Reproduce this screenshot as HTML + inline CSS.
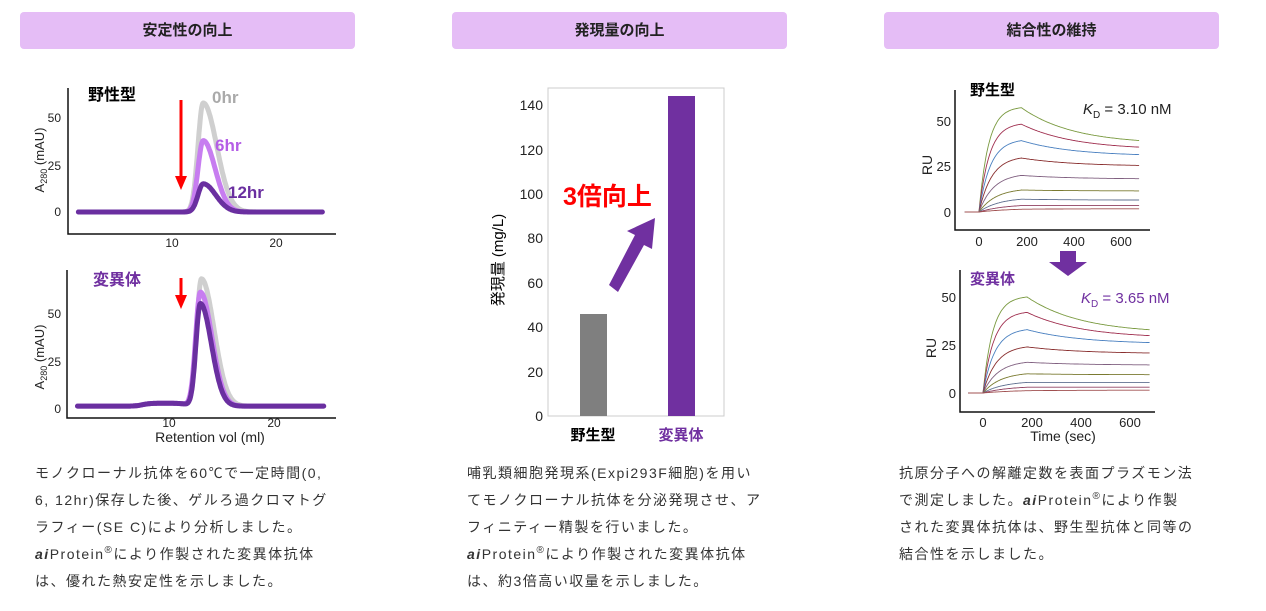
<!DOCTYPE html>
<html><head><meta charset="utf-8">
<style>
body{margin:0;width:1266px;height:611px;background:#fff;overflow:hidden;font-family:"Liberation Sans","Noto Sans CJK JP",sans-serif;position:relative}
.h{position:absolute;top:12px;height:37px;width:335px;background:#e5bdf6;border-radius:4px;text-align:center;line-height:37px;font-weight:bold;font-size:15px;color:#222}
.p{position:absolute;top:460px;font-size:14px;line-height:27px;letter-spacing:1.5px;color:#333}
.p sup{font-size:10px;line-height:0;vertical-align:6px}
svg{position:absolute;left:0;top:0}
</style></head><body>
<div class="h" style="left:20px">安定性の向上</div>
<div class="h" style="left:452px">発現量の向上</div>
<div class="h" style="left:884px">結合性の維持</div>
<div class="p" style="left:35px;width:300px">モノクローナル抗体を60℃で一定時間(0, 6, 12hr)保存した後、ゲルろ過クロマトグラフィー(SE C)により分析しました。<br><b><i>ai</i></b>Protein<sup>®</sup>により作製された変異体抗体は、優れた熱安定性を示しました。</div>
<div class="p" style="left:467px;width:296px">哺乳類細胞発現系(Expi293F細胞)を用いてモノクローナル抗体を分泌発現させ、アフィニティー精製を行いました。<br><b><i>ai</i></b>Protein<sup>®</sup>により作製された変異体抗体は、約3倍高い収量を示しました。</div>
<div class="p" style="left:899px;width:312px">抗原分子への解離定数を表面プラズモン法<br>で測定しました。<b><i>ai</i></b>Protein<sup>®</sup>により作製<br>された変異体抗体は、野生型抗体と同等の<br>結合性を示しました。</div>
<svg id="s" width="1266" height="611" font-family="Liberation Sans, Noto Sans CJK JP, sans-serif">
<g stroke="#111" stroke-width="1.5" fill="none">
<path d="M68 88V234H336"/><path d="M67 270V418H336"/>
<path d="M955 90V230H1150"/><path d="M960 270V412H1155"/>
</g>
<rect x="548" y="88" width="176" height="328" fill="none" stroke="#ccc"/>
<g font-size="12" fill="#222">
<text x="61" y="216" text-anchor="end">0</text><text x="61" y="170" text-anchor="end">25</text><text x="61" y="122" text-anchor="end">50</text>
<text x="172" y="247" text-anchor="middle">10</text><text x="276" y="247" text-anchor="middle">20</text>
<text x="61" y="413" text-anchor="end">0</text><text x="61" y="366" text-anchor="end">25</text><text x="61" y="318" text-anchor="end">50</text>
<text x="169" y="427" text-anchor="middle">10</text><text x="274" y="427" text-anchor="middle">20</text>
<text x="210" y="442" text-anchor="middle" font-size="14">Retention vol (ml)</text>
<text transform="translate(44,160) rotate(-90)" text-anchor="middle" font-size="13">A<tspan font-size="9" dy="3">280</tspan><tspan dy="-3"> (mAU)</tspan></text>
<text transform="translate(44,357) rotate(-90)" text-anchor="middle" font-size="13">A<tspan font-size="9" dy="3">280</tspan><tspan dy="-3"> (mAU)</tspan></text>
</g>
<text x="88" y="100" font-size="16" font-weight="bold">野性型</text>
<path d="M181 100V180" stroke="#f00" stroke-width="3"/><path d="M175 176L181 190L187 176Z" fill="#f00"/>
<path d="M181 278V298" stroke="#f00" stroke-width="3"/><path d="M175 295L181 309L187 295Z" fill="#f00"/>
<g id="chrom" fill="none" stroke-linejoin="round" stroke-linecap="round"></g>
<text x="212" y="103" font-size="17" font-weight="bold" fill="#aaa">0hr</text>
<text x="215" y="151" font-size="17" font-weight="bold" fill="#b45ee6">6hr</text>
<text x="228" y="198" font-size="17" font-weight="bold" fill="#6a2fa0">12hr</text>
<text x="93" y="285" font-size="16" font-weight="bold" fill="#7030a0">変異体</text>
<g font-size="14" fill="#222" text-anchor="end">
<text x="543" y="421">0</text><text x="543" y="377">20</text><text x="543" y="332">40</text><text x="543" y="288">60</text><text x="543" y="243">80</text><text x="543" y="199">100</text><text x="543" y="155">120</text><text x="543" y="110">140</text>
</g>
<text transform="translate(503,260) rotate(-90)" text-anchor="middle" font-size="15">発現量 (mg/L)</text>
<rect x="580" y="314" width="27" height="102" fill="#7f7f7f"/>
<rect x="668" y="96" width="27" height="320" fill="#7030a0"/>
<text x="563" y="205" font-size="25" font-weight="bold" fill="#f00">3倍向上</text>
<path d="M609 285L635 235L627 231L655 218L652 249L644 245L618 292Z" fill="#7030a0"/>
<text x="593" y="440" font-size="15" font-weight="bold" text-anchor="middle">野生型</text>
<text x="681" y="440" font-size="15" font-weight="bold" text-anchor="middle" fill="#7030a0">変異体</text>
<g font-size="13" fill="#222">
<text x="951" y="217" text-anchor="end">0</text><text x="951" y="171" text-anchor="end">25</text><text x="951" y="126" text-anchor="end">50</text>
<text x="979" y="246" text-anchor="middle">0</text><text x="1027" y="246" text-anchor="middle">200</text><text x="1074" y="246" text-anchor="middle">400</text><text x="1121" y="246" text-anchor="middle">600</text>
<text x="956" y="398" text-anchor="end">0</text><text x="956" y="350" text-anchor="end">25</text><text x="956" y="302" text-anchor="end">50</text>
<text x="983" y="427" text-anchor="middle">0</text><text x="1032" y="427" text-anchor="middle">200</text><text x="1081" y="427" text-anchor="middle">400</text><text x="1130" y="427" text-anchor="middle">600</text>
<text x="1063" y="441" text-anchor="middle" font-size="14">Time (sec)</text>
<text transform="translate(932,165) rotate(-90)" text-anchor="middle" font-size="14">RU</text>
<text transform="translate(936,348) rotate(-90)" text-anchor="middle" font-size="14">RU</text>
</g>
<text x="970" y="95" font-size="15" font-weight="bold">野生型</text>
<text x="970" y="284" font-size="15" font-weight="bold" fill="#7030a0">変異体</text>
<text x="1083" y="114" font-size="15" fill="#222"><tspan font-style="italic">K</tspan><tspan font-size="10" dy="4">D</tspan><tspan dy="-4"> = 3.10 nM</tspan></text>
<text x="1081" y="303" font-size="15" fill="#7030a0"><tspan font-style="italic">K</tspan><tspan font-size="10" dy="4">D</tspan><tspan dy="-4"> = 3.65 nM</tspan></text>
<path d="M1060 251H1076V262H1087L1068 276L1049 262H1060Z" fill="#7030a0"/>
<g id="spr" fill="none" stroke-width="0.9"></g>
</svg>
<script>
function chrom(x0,y0,px,py,mu,A,sl,sr,base,bump,col,w){
 var d="";for(var v=1;v<=24.5;v+=0.05){var s=v<mu?sl:sr;var y=base+A*Math.exp(-Math.pow(v-mu,2)/(2*s*s));
 if(bump)y+=bump*(1/(1+Math.exp(-(v-7.2)*3)))*(1/(1+Math.exp((v-11.5)*3)));
 d+=(d?"L":"M")+(x0+v*px).toFixed(1)+" "+(y0-y*py).toFixed(1);}
 var p=document.createElementNS("http://www.w3.org/2000/svg","path");p.setAttribute("d",d);p.setAttribute("stroke",col);p.setAttribute("stroke-width",w);document.getElementById("chrom").appendChild(p);}
chrom(68,212,10.4,1.88,13,58,0.5,1.3,0,0,"#cfcfcf",5);
chrom(68,212,10.4,1.88,13,38,0.5,1.15,0,0,"#c77df0",5);
chrom(68,212,10.4,1.88,13,15,0.5,1.2,0,0,"#6a2fa0",5);
chrom(67,409,10.5,1.9,12.8,67,0.45,1.2,1.5,1.5,"#cfcfcf",5);
chrom(67,409,10.5,1.9,12.7,60,0.45,1.1,1.5,1.5,"#c77df0",5);
chrom(67,409,10.5,1.9,12.7,54,0.42,1.05,1.5,1.5,"#6a2fa0",5);
var cols=["#7a9a40","#a03050","#4a80c0","#8a3030","#806080","#7a7a30","#607090","#904060","#a05050"];
function spr(x0,y0,px,py,peaks,ends){
 peaks.forEach(function(P,i){var k=0.025-i*0.0022;var R180=P;var Req=P/(1-Math.exp(-k*180));var E=ends[i];
  var d="M"+(x0-60*px)+" "+y0;
  for(var t=0;t<=680;t+=4){var r=t<=180?Req*(1-Math.exp(-k*t)):E+(R180-E)*Math.exp(-(t-180)/220);
   d+="L"+(x0+t*px).toFixed(1)+" "+(y0-r*py).toFixed(1);}
  var p=document.createElementNS("http://www.w3.org/2000/svg","path");p.setAttribute("d",d);p.setAttribute("stroke",cols[i]);document.getElementById("spr").appendChild(p);});}
spr(979,212,0.2355,1.83,[57,48,39,29.5,20,12,7,3.5,1.5],[37,34,30.5,25,18,11.5,6.5,3.5,1.8]);
spr(983,393,0.245,1.92,[50,42,33,24,16,10,5.5,3,1.2],[31,28.5,25.5,20.5,14.5,9.5,5.5,3,1.5]);
</script>
</body></html>
